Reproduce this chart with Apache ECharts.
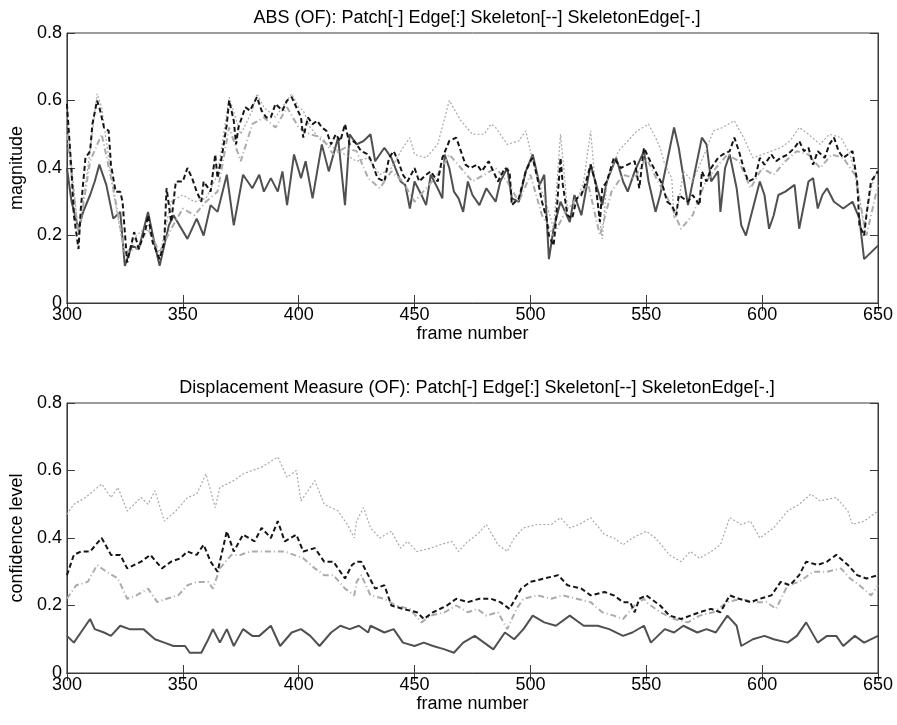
<!DOCTYPE html>
<html>
<head>
<meta charset="utf-8">
<script src="https://cdn.jsdelivr.net/npm/echarts@6/dist/echarts.min.js"></script>
<style>
html,body{margin:0;padding:0;background:#fff;}
#c{width:897px;height:725px;}
</style>
</head>
<body>
<div id="c"></div>
<script>
// ---------- Top plot: ABS (OF) ----------
var absPatchF = [300,302,305,307,310,312,314,316,317,320,323,325,328,331,335,338,340,344,346,352,356,359,362,365,369,372,376,380,383,385,388,391,393,395,398,401,403,406,410,413,417,420,422,425,428,431,433,437,440,444,446,448,450,453,455,457,460,462,463,465,467,469,471,473,475,478,481,485,487,490,492,495,498,501,504,506,508,510,513,515,517,519,522,526,528,531,533,537,540,542,545,549,551,554,556,559,562,564,568,574,576,578,581,582,584,586,589,591,593,596,599,601,603,605,607,610,614,616,620,622,624,626,628,631,635,639,642,644,647,650];
var absPatch = [0.40,0.30,0.22,0.27,0.32,0.36,0.41,0.37,0.35,0.25,0.27,0.11,0.17,0.16,0.27,0.17,0.11,0.23,0.26,0.19,0.25,0.20,0.29,0.27,0.38,0.23,0.38,0.34,0.38,0.33,0.37,0.33,0.39,0.29,0.44,0.37,0.42,0.31,0.47,0.39,0.49,0.29,0.50,0.47,0.48,0.50,0.42,0.46,0.43,0.36,0.35,0.28,0.36,0.32,0.29,0.38,0.34,0.31,0.44,0.40,0.33,0.31,0.27,0.36,0.32,0.29,0.34,0.30,0.36,0.40,0.31,0.30,0.39,0.44,0.35,0.38,0.13,0.22,0.30,0.27,0.24,0.32,0.26,0.41,0.36,0.29,0.36,0.43,0.36,0.33,0.39,0.45,0.36,0.27,0.32,0.42,0.52,0.46,0.29,0.49,0.47,0.36,0.39,0.27,0.40,0.44,0.34,0.23,0.20,0.28,0.36,0.32,0.22,0.26,0.32,0.33,0.35,0.22,0.36,0.37,0.28,0.32,0.34,0.30,0.28,0.30,0.25,0.13,0.15,0.17];

var absSkeletonF = [300,302,303,305,306,308,310,311,313,314,316,318,319,321,323,324,326,327,329,331,334,335,337,340,342,343,345,347,350,352,354,356,358,359,362,364,365,367,369,370,372,373,374,377,379,382,384,386,388,390,393,395,397,399,401,402,404,406,408,410,412,414,416,418,420,422,424,427,430,432,434,437,439,441,443,445,447,450,452,455,457,460,462,465,468,470,472,474,477,479,482,484,486,489,491,492,495,498,500,501,503,505,507,508,510,511,513,514,516,518,520,522,524,526,528,530,531,533,536,539,542,545,547,549,551,554,557,559,561,563,564,568,570,573,574,576,578,581,583,586,588,590,592,594,597,599,601,604,606,608,611,614,616,618,620,622,624,627,629,631,633,635,637,639,641,642,644,645,647,650];
var absSkeleton = [0.59,0.39,0.26,0.16,0.28,0.43,0.45,0.53,0.60,0.58,0.52,0.51,0.41,0.33,0.33,0.30,0.12,0.15,0.21,0.16,0.22,0.26,0.18,0.13,0.18,0.34,0.24,0.36,0.36,0.40,0.37,0.33,0.30,0.36,0.33,0.44,0.37,0.44,0.53,0.60,0.54,0.47,0.52,0.58,0.57,0.61,0.57,0.55,0.55,0.59,0.57,0.60,0.61,0.58,0.55,0.49,0.55,0.53,0.54,0.52,0.51,0.47,0.50,0.48,0.53,0.47,0.48,0.45,0.44,0.41,0.37,0.36,0.43,0.45,0.42,0.38,0.36,0.40,0.36,0.38,0.39,0.36,0.43,0.48,0.49,0.45,0.41,0.40,0.41,0.39,0.42,0.39,0.36,0.40,0.39,0.29,0.31,0.39,0.42,0.43,0.37,0.30,0.25,0.20,0.17,0.24,0.43,0.35,0.26,0.25,0.31,0.32,0.36,0.41,0.36,0.24,0.34,0.36,0.43,0.40,0.41,0.42,0.34,0.46,0.43,0.39,0.35,0.30,0.29,0.26,0.32,0.30,0.32,0.29,0.39,0.36,0.40,0.43,0.44,0.45,0.49,0.45,0.40,0.36,0.37,0.43,0.41,0.44,0.42,0.43,0.44,0.46,0.48,0.45,0.46,0.41,0.45,0.43,0.47,0.49,0.45,0.43,0.44,0.45,0.36,0.23,0.20,0.26,0.36,0.39];

var absEdgeF = [300,305,310,313,315,320,325,330,335,340,345,350,355,360,365,370,375,380,382,385,390,395,397,400,402,405,410,415,420,425,430,435,440,445,448,450,455,460,465,470,475,480,483,485,490,495,498,500,505,508,510,513,516,520,523,526,528,531,533,538,542,546,551,554,556,558,561,562,564,566,570,575,579,583,588,592,596,600,604,608,612,616,620,625,629,634,638,641,644,647,650];
var absEdge = [0.55,0.20,0.45,0.62,0.58,0.33,0.14,0.20,0.23,0.14,0.30,0.32,0.30,0.31,0.38,0.61,0.50,0.57,0.62,0.58,0.55,0.60,0.62,0.58,0.57,0.52,0.48,0.46,0.44,0.42,0.43,0.38,0.40,0.46,0.49,0.44,0.43,0.47,0.60,0.54,0.50,0.50,0.53,0.52,0.47,0.48,0.51,0.45,0.33,0.27,0.22,0.50,0.28,0.30,0.36,0.51,0.35,0.19,0.36,0.45,0.48,0.51,0.53,0.49,0.46,0.41,0.37,0.25,0.30,0.39,0.36,0.44,0.51,0.52,0.54,0.49,0.43,0.44,0.45,0.46,0.48,0.52,0.50,0.47,0.50,0.49,0.44,0.36,0.22,0.34,0.40];

var absSkeletonEdgeF = [300,305,310,315,320,325,330,335,340,345,350,355,360,365,370,375,380,385,390,395,400,405,410,415,420,425,430,435,440,445,450,455,460,465,470,475,480,485,490,495,500,505,510,515,520,525,530,535,540,545,550,555,560,565,570,575,580,585,590,595,600,605,610,615,620,625,630,635,640,645,650];
var absSkeletonEdge = [0.50,0.20,0.42,0.50,0.34,0.15,0.16,0.22,0.15,0.22,0.28,0.26,0.30,0.33,0.52,0.42,0.53,0.55,0.52,0.58,0.52,0.50,0.49,0.44,0.46,0.45,0.37,0.34,0.39,0.36,0.30,0.34,0.38,0.44,0.40,0.36,0.38,0.40,0.36,0.30,0.38,0.26,0.20,0.27,0.31,0.35,0.20,0.33,0.38,0.37,0.43,0.36,0.30,0.22,0.26,0.35,0.40,0.44,0.42,0.34,0.40,0.38,0.42,0.45,0.44,0.40,0.44,0.43,0.38,0.20,0.35];

// ---------- Bottom plot: Displacement Measure (OF) ----------
var dmPatchF = [300,303,306,310,312,316,319,323,327,333,338,342,346,351,353,358,361,363,366,369,372,376,380,383,388,392,397,401,405,409,414,418,422,426,430,431,437,441,445,450,454,458,463,467,471,476,480,484,489,493,497,501,506,511,517,523,529,534,540,544,549,552,558,562,566,572,576,580,585,589,591,596,601,605,611,615,619,624,628,632,635,640,644,650];
var dmPatch = [0.11,0.09,0.12,0.16,0.13,0.12,0.11,0.14,0.13,0.13,0.10,0.09,0.08,0.08,0.06,0.06,0.10,0.13,0.09,0.13,0.08,0.13,0.11,0.11,0.14,0.08,0.12,0.13,0.11,0.08,0.12,0.14,0.13,0.14,0.12,0.14,0.12,0.13,0.09,0.08,0.09,0.08,0.07,0.06,0.09,0.11,0.09,0.07,0.12,0.10,0.13,0.17,0.15,0.14,0.17,0.14,0.14,0.13,0.11,0.12,0.14,0.09,0.13,0.12,0.14,0.12,0.13,0.12,0.17,0.14,0.08,0.10,0.11,0.10,0.09,0.11,0.15,0.09,0.11,0.11,0.08,0.11,0.09,0.11];

var dmEdgeF = [300,303,308,315,319,322,326,332,335,338,342,347,352,356,360,364,366,372,376,384,391,395,399,401,407,411,417,421,424,425,428,431,435,440,444,447,451,457,461,466,469,473,477,481,486,490,493,497,503,509,513,517,521,526,532,536,540,544,550,554,560,565,569,573,578,582,586,591,595,599,605,611,616,621,625,632,637,639,644,650];
var dmEdge = [0.47,0.50,0.52,0.56,0.52,0.55,0.48,0.52,0.50,0.54,0.45,0.48,0.52,0.53,0.59,0.49,0.55,0.57,0.59,0.61,0.64,0.58,0.60,0.51,0.57,0.50,0.48,0.44,0.40,0.45,0.49,0.43,0.40,0.42,0.37,0.39,0.36,0.37,0.38,0.39,0.36,0.39,0.41,0.44,0.38,0.36,0.40,0.43,0.44,0.44,0.46,0.43,0.44,0.46,0.41,0.40,0.38,0.40,0.42,0.40,0.35,0.33,0.36,0.34,0.36,0.38,0.46,0.44,0.45,0.40,0.43,0.48,0.50,0.53,0.51,0.52,0.48,0.44,0.45,0.48];

var dmSkeletonF = [300,303,306,310,315,319,323,326,332,336,341,345,349,352,356,359,362,365,369,372,376,381,384,388,391,394,399,402,407,411,415,420,423,425,427,430,433,437,440,445,451,454,458,464,468,473,478,483,487,491,496,500,506,512,516,522,526,532,536,540,543,545,547,550,552,556,560,565,569,573,578,582,586,590,595,599,604,608,612,616,619,624,628,632,637,641,645,650];
var dmSkeleton = [0.29,0.35,0.36,0.36,0.40,0.35,0.35,0.31,0.33,0.35,0.31,0.33,0.34,0.36,0.35,0.38,0.33,0.30,0.42,0.36,0.41,0.39,0.43,0.40,0.45,0.39,0.41,0.36,0.37,0.33,0.33,0.28,0.32,0.33,0.33,0.29,0.25,0.26,0.20,0.19,0.18,0.16,0.18,0.20,0.22,0.21,0.22,0.22,0.21,0.19,0.25,0.27,0.28,0.29,0.26,0.25,0.23,0.24,0.23,0.21,0.21,0.18,0.22,0.23,0.22,0.20,0.17,0.16,0.17,0.18,0.19,0.18,0.23,0.22,0.21,0.22,0.23,0.27,0.26,0.29,0.33,0.32,0.33,0.35,0.32,0.29,0.28,0.29];

var dmSkeletonEdgeF = [300,304,309,313,317,322,326,330,335,339,343,348,352,356,361,363,366,371,375,379,384,389,394,398,402,407,411,415,420,424,425,427,431,437,442,448,453,457,463,468,473,477,481,486,490,494,497,503,509,514,520,526,531,536,540,545,549,550,556,562,568,573,579,585,591,596,602,606,611,616,622,628,634,638,642,647,650];
var dmSkeletonEdge = [0.22,0.26,0.27,0.32,0.30,0.28,0.22,0.23,0.25,0.21,0.22,0.23,0.26,0.27,0.27,0.25,0.31,0.35,0.35,0.36,0.36,0.36,0.36,0.35,0.34,0.31,0.29,0.29,0.25,0.23,0.27,0.29,0.23,0.22,0.20,0.19,0.15,0.17,0.18,0.20,0.18,0.19,0.17,0.18,0.13,0.19,0.22,0.23,0.22,0.23,0.22,0.21,0.18,0.17,0.16,0.20,0.22,0.21,0.18,0.16,0.15,0.17,0.18,0.21,0.22,0.21,0.21,0.19,0.26,0.27,0.30,0.30,0.31,0.28,0.26,0.23,0.26];

// ---------- axes / text ----------
var xTicks = [300,350,400,450,500,550,600,650];
var yTicks = [0,0.2,0.4,0.6,0.8];
var titles = ['ABS (OF): Patch[-] Edge[:] Skeleton[--] SkeletonEdge[-.]',
              'Displacement Measure (OF): Patch[-] Edge[:] Skeleton[--] SkeletonEdge[-.]'];
var yNames = ['magnitude','confidence level'];
var xName = 'frame number';

var FONT = '"Liberation Sans", Arial, sans-serif';
var AX = '#3a3a3a';

function pairs(xs, vals){ return xs.map(function(f,i){ return [f, vals[i]]; }); }

var grids = [], xAxes = [], yAxes = [], series = [], titleArr = [];
var tops = [33, 403];
var sets = [
  [[absPatchF,absPatch],[absEdgeF,absEdge],[absSkeletonF,absSkeleton],[absSkeletonEdgeF,absSkeletonEdge]],
  [[dmPatchF,dmPatch],[dmEdgeF,dmEdge],[dmSkeletonF,dmSkeleton],[dmSkeletonEdgeF,dmSkeletonEdge]]
];

for (var g=0; g<2; g++){
  grids.push({left:66, top:tops[g], width:812, height:270, show:true, borderColor:AX, borderWidth:1, backgroundColor:'#fff'});
  titleArr.push({text:titles[g], left:472, top:tops[g]-29, textAlign:'center',
    textStyle:{fontFamily:FONT, fontSize:18, fontWeight:'normal', color:'#000'}});
  var xBase = {type:'value', gridIndex:g, min:xTicks[0], max:xTicks[xTicks.length-1], interval:50,
    splitLine:{show:false}, axisLine:{show:true, lineStyle:{color:AX, width:1}},
    axisTick:{show:true, inside:true, length:8, lineStyle:{color:AX}}};
  xAxes.push(Object.assign({}, xBase, {position:'bottom',
    name:xName, nameLocation:'middle', nameGap:22,
    nameTextStyle:{fontFamily:FONT, fontSize:18, color:'#000', verticalAlign:'top'},
    axisLabel:{show:true, margin:3, fontFamily:FONT, fontSize:18, color:'#000', verticalAlign:'top'}}));
  xAxes.push(Object.assign({}, xBase, {position:'top', axisLabel:{show:false}}));
  var yBase = {type:'value', gridIndex:g, min:yTicks[0], max:yTicks[yTicks.length-1], interval:0.2,
    splitLine:{show:false}, axisLine:{show:true, lineStyle:{color:AX, width:1}},
    axisTick:{show:true, inside:true, length:8, lineStyle:{color:AX}}};
  yAxes.push(Object.assign({}, yBase, {position:'left',
    name:yNames[g], nameLocation:'middle', nameGap:38, nameRotate:90,
    nameTextStyle:{fontFamily:FONT, fontSize:18, color:'#000'},
    axisLabel:{show:true, margin:5, fontFamily:FONT, fontSize:18, color:'#000'}}));
  yAxes.push(Object.assign({}, yBase, {position:'right', axisLabel:{show:false}}));

  var s = sets[g];
  var styles = [
    {name:'Patch', d:s[0], color:'#505050', width:2, type:'solid', z:2},
    {name:'Edge', d:s[1], color:'#a8a8a8', width:1.2, type:[2,2], z:3},
    {name:'SkeletonEdge', d:s[3], color:'#ababab', width:2, type:[6,3,1,3], z:4},
    {name:'Skeleton', d:s[2], color:'#151515', width:2, type:[5,3], z:5}
  ];
  styles.forEach(function(st){
    series.push({type:'line', name:st.name, xAxisIndex:g*2, yAxisIndex:g*2, data:pairs(st.d[0], st.d[1]),
      showSymbol:false, symbol:'none', z:st.z, animation:false,
      lineStyle:{color:st.color, width:st.width, type:st.type}});
  });
}

var chart = echarts.init(document.getElementById('c'), null, {renderer:'canvas'});
chart.setOption({
  backgroundColor:'#fff',
  animation:false,
  title:titleArr,
  grid:grids,
  xAxis:xAxes,
  yAxis:yAxes,
  series:series
});
</script>
</body>
</html>
